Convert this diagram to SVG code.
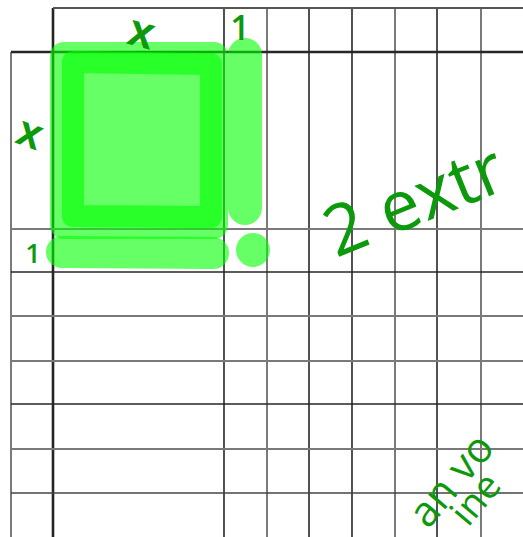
<svg xmlns="http://www.w3.org/2000/svg" width="523" height="537" viewBox="0 0 523 537">
<style>
.dk{stroke:#262626;stroke-width:1.6}
.gr{stroke:#7a7a7a;stroke-width:2}
.hl{fill:#00ff00;fill-opacity:0.6}
.hs{fill:none;stroke:#00ff00;stroke-opacity:0.6;stroke-linecap:round;stroke-linejoin:round}
.hw{fill:#0c990c;font-family:"Open Sans","Liberation Sans",sans-serif}
.hx{fill:#0c990c;font-family:"Liberation Sans",sans-serif;font-weight:700}
</style>
<rect width="523" height="537" fill="#ffffff"/>
<g id="grid">
<line class="gr" x1="11" y1="52" x2="11" y2="537"/>
<line class="dk" x1="53" y1="8" x2="53" y2="537" style="stroke-width:2.6"/>
<line class="dk" x1="224" y1="8" x2="224" y2="537"/>
<line class="gr" x1="267" y1="8" x2="267" y2="537"/>
<line class="dk" x1="309" y1="8" x2="309" y2="537"/>
<line class="dk" x1="352" y1="8" x2="352" y2="537"/>
<line class="gr" x1="395" y1="8" x2="395" y2="537"/>
<line class="dk" x1="437" y1="8" x2="437" y2="537"/>
<line class="gr" x1="481" y1="8" x2="481" y2="537"/>
<line class="gr" x1="53" y1="8" x2="523" y2="8" style="stroke:#555"/>
<line class="dk" x1="11" y1="52" x2="523" y2="52" style="stroke-width:2.6"/>
<line class="gr" x1="11" y1="229" x2="523" y2="229"/>
<line class="dk" x1="11" y1="272" x2="523" y2="272"/>
<line class="gr" x1="11" y1="316" x2="523" y2="316"/>
<line class="gr" x1="11" y1="361" x2="523" y2="361"/>
<line class="dk" x1="11" y1="404" x2="523" y2="404"/>
<line class="gr" x1="11" y1="449" x2="523" y2="449"/>
<line class="dk" x1="11" y1="493" x2="523" y2="493" style="stroke:#444"/>
</g>
<g id="highlight">
<rect class="hl" x="50" y="42" width="178" height="197" rx="14"/>
<path class="hs" d="M73 62 L211 64 L211 217 L73 216 Z" style="stroke-width:22"/>
<line class="hs" x1="62" y1="252" x2="213" y2="253" style="stroke-width:32"/>
<line class="hs" x1="245" y1="55" x2="245" y2="208" style="stroke-width:34"/>
<circle class="hl" cx="253" cy="250" r="17"/>
</g>
<g id="notes">
<text class="hx" font-size="46" text-anchor="middle" transform="translate(141,35) rotate(15)" y="12">x</text>
<text class="hx" font-size="44" text-anchor="middle" transform="translate(29,136) rotate(20)" y="11">x</text>
<text class="hw" font-size="34" text-anchor="middle" x="240" y="40" font-weight="600">1</text>
<text class="hw" font-size="27" text-anchor="middle" x="33" y="263" font-weight="600">1</text>
<text class="hw" font-size="70" transform="translate(336,258) rotate(-22)">2 extr</text>
<text class="hw" font-size="42" transform="translate(428,530) rotate(-50)">an vo</text>
<text class="hw" font-size="38" transform="translate(468,528) rotate(-50)">ine</text>
</g>
</svg>
